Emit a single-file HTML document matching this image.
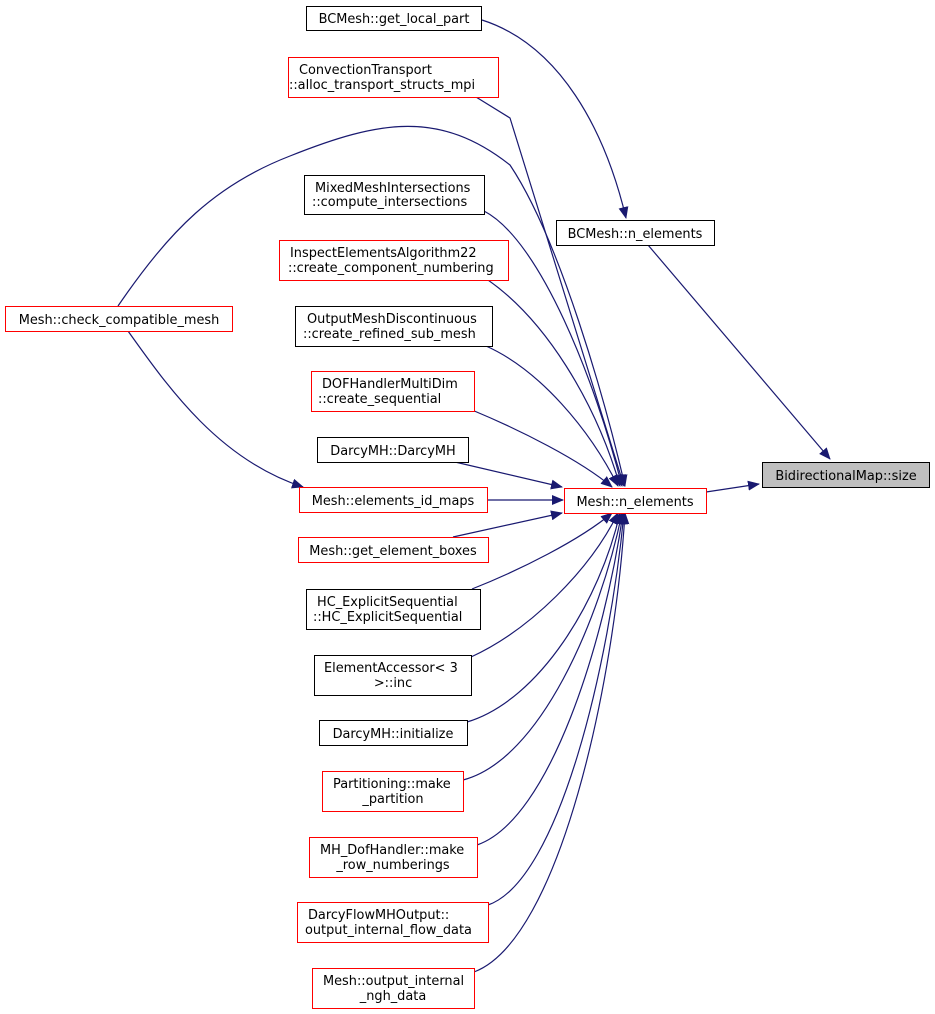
<!DOCTYPE html>
<html><head><meta charset="utf-8"><style>
html,body{margin:0;padding:0;background:#fff;}
svg{display:block;}
text{font-family:"DejaVu Sans","Liberation Sans",sans-serif;font-size:12.9px;fill:#000;}
</style></head><body>
<svg width="935" height="1014" viewBox="0 0 935 1014" xmlns="http://www.w3.org/2000/svg">
<defs>
<marker id="a" markerWidth="12" markerHeight="10" refX="11" refY="5" orient="auto" markerUnits="userSpaceOnUse">
<path d="M0,0 L12,5 L0,10 z" fill="#191970"/>
</marker>
</defs>
<g fill="none" stroke="#191970" stroke-width="1.2">
<path d="M482,20 C560,45 605,130 626,218" marker-end="url(#a)"/>
<path d="M648,245 L830,459" marker-end="url(#a)"/>
<path d="M706,492 L759,484" marker-end="url(#a)"/>
<path d="M476,97 L510,118 L624,486" marker-end="url(#a)"/>
<path d="M118,306 C170,230 215,185 290,156 C380,120 440,110 510,165 C560,240 605,400 625,486" marker-end="url(#a)"/>
<path d="M128,331 C170,390 220,460 303,487" marker-end="url(#a)"/>
<path d="M484,211 C540,240 595,380 622,486" marker-end="url(#a)"/>
<path d="M488,280 C545,320 595,400 620,486" marker-end="url(#a)"/>
<path d="M486,346 C540,370 590,430 618,486" marker-end="url(#a)"/>
<path d="M472,410 C520,430 580,460 612,487" marker-end="url(#a)"/>
<path d="M455,462 L562,487" marker-end="url(#a)"/>
<path d="M487,500 L563,500" marker-end="url(#a)"/>
<path d="M453,537 L562,513" marker-end="url(#a)"/>
<path d="M472,589 C520,570 580,540 612,513" marker-end="url(#a)"/>
<path d="M471,657 C530,630 590,570 618,513" marker-end="url(#a)"/>
<path d="M467,722 C540,700 600,600 620,513" marker-end="url(#a)"/>
<path d="M463,780 C540,760 600,620 622,513" marker-end="url(#a)"/>
<path d="M477,845 C550,820 605,640 623,513" marker-end="url(#a)"/>
<path d="M488,905 C560,880 610,660 624,513" marker-end="url(#a)"/>
<path d="M474,972 C560,940 615,680 625,513" marker-end="url(#a)"/>
</g>
<g stroke-width="1">
<rect x="306.5" y="6.5" width="175" height="24" fill="#fff" stroke="#000"/>
<rect x="288.5" y="57.5" width="210" height="40" fill="#fff" stroke="#f00"/>
<rect x="304.5" y="175.5" width="180" height="39" fill="#fff" stroke="#000"/>
<rect x="279.5" y="240.5" width="229" height="40" fill="#fff" stroke="#f00"/>
<rect x="295.5" y="306.5" width="197" height="40" fill="#fff" stroke="#000"/>
<rect x="311.5" y="371.5" width="163" height="40" fill="#fff" stroke="#f00"/>
<rect x="317.5" y="437.5" width="151" height="25" fill="#fff" stroke="#000"/>
<rect x="299.5" y="487.5" width="188" height="25" fill="#fff" stroke="#f00"/>
<rect x="298.5" y="537.5" width="190" height="25" fill="#fff" stroke="#f00"/>
<rect x="306.5" y="589.5" width="174" height="40" fill="#fff" stroke="#000"/>
<rect x="314.5" y="655.5" width="157" height="40" fill="#fff" stroke="#000"/>
<rect x="319.5" y="720.5" width="148" height="25" fill="#fff" stroke="#000"/>
<rect x="322.5" y="771.5" width="141" height="40" fill="#fff" stroke="#f00"/>
<rect x="309.5" y="837.5" width="168" height="40" fill="#fff" stroke="#f00"/>
<rect x="297.5" y="902.5" width="191" height="40" fill="#fff" stroke="#f00"/>
<rect x="312.5" y="968.5" width="162" height="40" fill="#fff" stroke="#f00"/>
<rect x="5.5" y="306.5" width="227" height="25" fill="#fff" stroke="#f00"/>
<rect x="564.5" y="488.5" width="142" height="25" fill="#fff" stroke="#f00"/>
<rect x="556.5" y="220.5" width="158" height="25" fill="#fff" stroke="#000"/>
<rect x="762.5" y="462.5" width="167" height="25" fill="#bfbfbf" stroke="#000"/>
</g>
<g text-anchor="middle">
<text x="394" y="23">BCMesh::get_local_part</text>
<text x="393" y="505">Mesh::elements_id_maps</text>
<text x="393" y="555">Mesh::get_element_boxes</text>
<text x="393" y="455">DarcyMH::DarcyMH</text>
<text x="393" y="738">DarcyMH::initialize</text>
<text x="119" y="324">Mesh::check_compatible_mesh</text>
<text x="635" y="506">Mesh::n_elements</text>
<text x="635" y="238">BCMesh::n_elements</text>
<text x="846" y="480">BidirectionalMap::size</text>
</g>
<g>
<text x="299" y="74">ConvectionTransport</text><text x="289" y="89">::alloc_transport_structs_mpi</text>
<text x="315" y="192">MixedMeshIntersections</text><text x="312" y="206">::compute_intersections</text>
<text x="290" y="257">InspectElementsAlgorithm22</text><text x="288" y="272">::create_component_numbering</text>
<text x="307" y="323">OutputMeshDiscontinuous</text><text x="303" y="338">::create_refined_sub_mesh</text>
<text x="322" y="388">DOFHandlerMultiDim</text><text x="318" y="403">::create_sequential</text>
<text x="317" y="606">HC_ExplicitSequential</text><text x="313" y="621">::HC_ExplicitSequential</text>
<text x="324" y="672">ElementAccessor&lt; 3</text><text x="393" y="687" text-anchor="middle">&gt;::inc</text>
<text x="333" y="788">Partitioning::make</text><text x="393" y="803" text-anchor="middle">_partition</text>
<text x="320" y="854">MH_DofHandler::make</text><text x="393" y="869" text-anchor="middle">_row_numberings</text>
<text x="308" y="919">DarcyFlowMHOutput::</text><text x="305" y="934">output_internal_flow_data</text>
<text x="323" y="985">Mesh::output_internal</text><text x="393" y="1000" text-anchor="middle">_ngh_data</text>
</g>
</svg>
</body></html>
